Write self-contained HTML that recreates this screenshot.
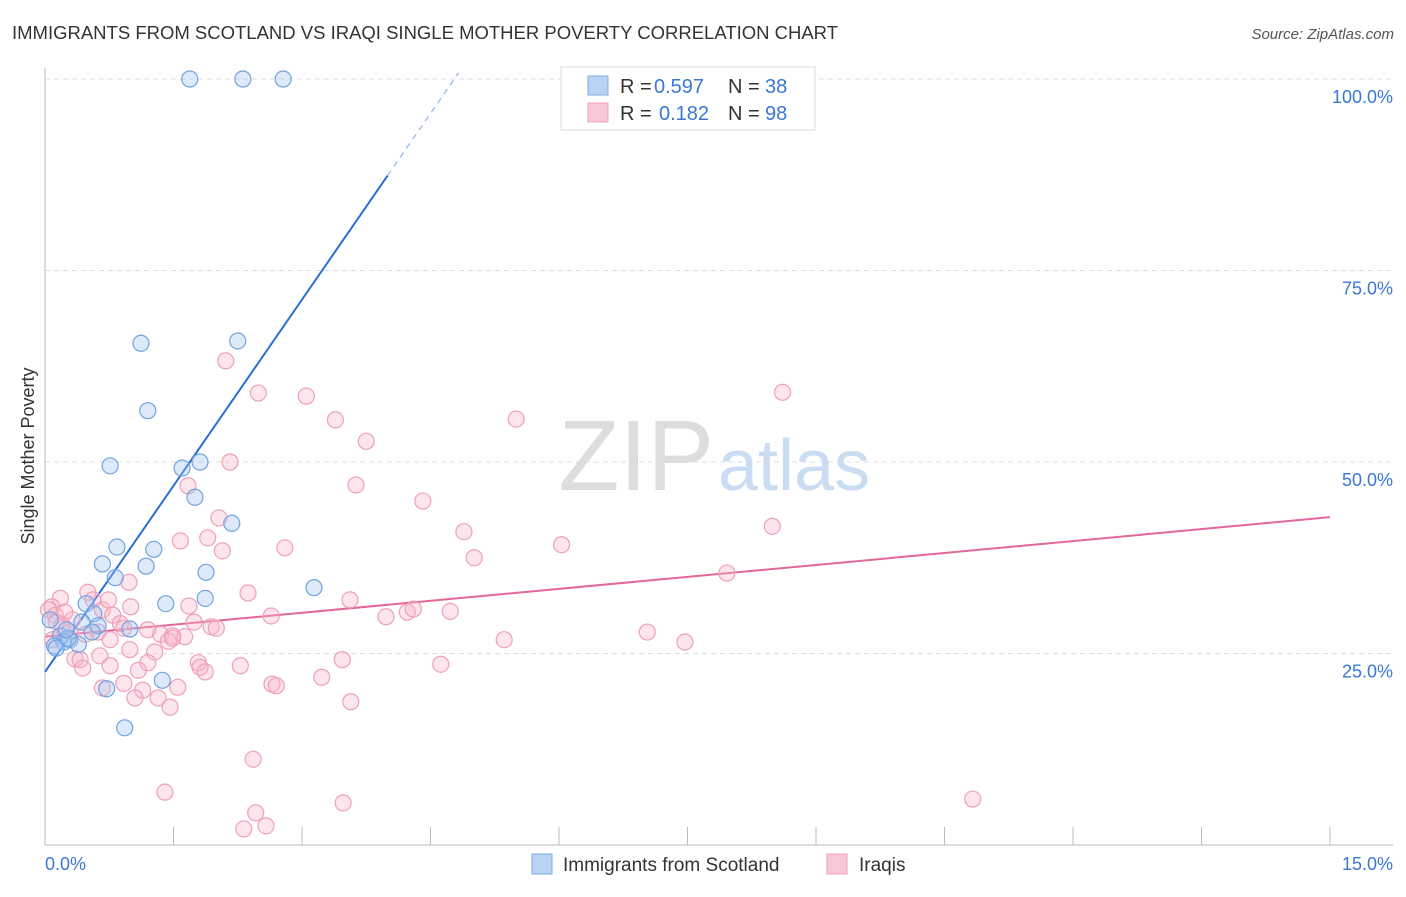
<!DOCTYPE html>
<html><head><meta charset="utf-8"><style>
body{margin:0;background:#fff;font-family:"Liberation Sans",sans-serif;}
svg text{font-family:"Liberation Sans",sans-serif;}
</style></head><body>
<svg id="chart" width="1406" height="892" xmlns="http://www.w3.org/2000/svg">
<text x="12" y="39" font-size="18" fill="#333" textLength="826" lengthAdjust="spacingAndGlyphs">IMMIGRANTS FROM SCOTLAND VS IRAQI SINGLE MOTHER POVERTY CORRELATION CHART</text>
<text x="1394" y="39" font-size="15" fill="#555" text-anchor="end" font-style="italic">Source: ZipAtlas.com</text>
<text x="714" y="490" font-size="100" fill="#ddd" text-anchor="end" font-family="Liberation Serif">ZIP</text>
<text x="718" y="490" font-size="72" fill="#c9dcf2">atlas</text>
<text transform="translate(34,456) rotate(-90)" font-size="18" fill="#333" text-anchor="middle">Single Mother Poverty</text>
<g id="grid"></g><g id="axes"></g><g id="lines"></g><g id="pts"></g>
<g>
<rect x="561" y="67" width="254" height="63" fill="#fff" stroke="#ddd"/>
<rect x="588" y="76" width="20" height="19" fill="#b9d3f5" stroke="#7eaee6"/>
<rect x="588" y="103" width="20" height="19" fill="#f9c7d6" stroke="#eea0b8"/>
<text x="620" y="93" font-size="20" fill="#333">R =</text>
<text x="654" y="93" font-size="20" fill="#3a78d4">0.597</text>
<text x="728" y="93" font-size="20" fill="#333">N =</text>
<text x="765" y="93" font-size="20" fill="#3a78d4">38</text>
<text x="620" y="120" font-size="20" fill="#333">R =</text>
<text x="659" y="120" font-size="20" fill="#3a78d4">0.182</text>
<text x="728" y="120" font-size="20" fill="#333">N =</text>
<text x="765" y="120" font-size="20" fill="#3a78d4">98</text>
</g>
<g>
<rect x="532" y="854" width="20" height="20" fill="#b9d3f5" stroke="#7eaee6"/>
<text x="563" y="871" font-size="19" fill="#333">Immigrants from Scotland</text>
<rect x="827" y="854" width="20" height="20" fill="#f9c7d6" stroke="#eea0b8"/>
<text x="859" y="871" font-size="19" fill="#333">Iraqis</text>
</g>
</svg>
<script>
const yTicks=[25,50,75,100];
const xTickLabels=["0.0%","15.0%"];
const blueX=[1.69,2.31,2.78,2.25,1.12,1.20,0.76,1.60,1.81,1.75,2.18,0.84,1.27,0.67,1.18,1.88,0.82,3.14,1.87,1.41,0.48,0.57,0.43,0.62,0.99,0.55,0.18,0.29,0.22,0.39,0.11,0.13,0.27,1.37,0.72,0.93,0.06,0.25];
const blueY=[100,100,100,65.8,65.5,56.7,49.5,49.2,50.0,45.4,42.0,38.9,38.6,36.7,36.4,35.6,34.9,33.6,32.2,31.5,31.5,30.2,29.1,28.6,28.2,27.8,27.3,26.8,26.5,26.2,26.0,25.7,27.0,21.5,20.4,15.3,29.4,28.1];
const pinkX=[2.11,2.49,3.05,3.39,5.50,8.61,3.75,2.16,3.63,4.41,1.67,4.89,8.49,2.03,5.01,6.03,1.90,1.58,2.07,2.80,7.96,0.98,2.37,1.68,3.56,2.64,4.23,4.30,3.98,4.73,1.00,0.67,0.18,0.08,0.12,0.13,0.32,0.50,0.56,0.79,0.88,0.92,0.62,1.20,1.35,1.49,1.63,1.74,1.94,2.00,1.44,1.49,7.03,7.47,5.36,0.76,0.99,1.28,0.64,0.35,0.41,0.44,1.20,1.09,0.76,2.28,1.79,1.87,3.47,4.62,3.23,2.65,2.70,0.92,0.67,1.14,1.55,1.05,1.32,1.46,3.57,2.43,1.40,2.46,3.48,2.58,2.32,10.83,0.04,0.23,0.29,0.47,0.09,0.20,0.74,1.81];
const pinkY=[63.2,59.0,58.6,55.5,55.6,59.1,52.7,50.0,47.0,44.9,46.9,40.9,41.6,42.7,37.5,39.2,40.1,39.7,38.4,38.8,35.5,34.3,32.9,31.2,32.0,29.9,30.4,30.8,29.8,30.5,31.1,30.7,32.2,31.1,30.0,29.1,29.4,33.0,32.0,30.0,28.9,28.3,27.8,28.1,27.5,27.3,27.2,29.1,28.5,28.3,26.6,27.0,27.8,26.5,26.8,26.8,25.5,25.2,24.7,24.3,24.2,23.1,23.8,22.8,23.4,23.4,23.8,22.6,24.2,23.6,21.9,21.0,20.8,21.1,20.5,20.2,20.6,19.2,19.2,18.0,18.7,11.2,6.9,4.2,5.5,2.5,2.1,6.0,30.7,30.4,27.8,27.5,26.8,28.7,32.0,23.2];
const blueTrend=[22.6,16.2]; // intercept, slope
const pinkTrend=[27.2,1.04];
const NS="http://www.w3.org/2000/svg";
const X=v=>45+v/15*1285, Y=v=>845-v/100*766;
function mk(tag,attrs,parent){const e=document.createElementNS(NS,tag);for(const k in attrs)e.setAttribute(k,attrs[k]);document.getElementById(parent).appendChild(e);return e;}
yTicks.forEach(t=>{
 const l=mk('line',{x1:45,x2:1393,y1:Y(t),y2:Y(t),stroke:'#ddd','stroke-dasharray':'5,4'},'grid');
 
 
 const tx=mk('text',{x:1393,y:Y(t)+24,'font-size':18,fill:'#3a78d4','text-anchor':'end'},'grid');tx.textContent=t.toFixed(1)+'%';
 
 
});
mk('line',{x1:45,x2:45,y1:68,y2:845,stroke:'#bbb'},'axes');
mk('line',{x1:45,x2:1393,y1:845,y2:845,stroke:'#bbb'},'axes');
for(let i=0;i<=10;i++){const t=mk('line',{x1:X(i*1.5),x2:X(i*1.5),y1:827,y2:845,stroke:'#bbb'},'axes');
 
 }
[[0,'start',45],[1,'end',1393]].forEach(([i,a,x])=>{const t=mk('text',{x:x,y:870,'font-size':18,fill:'#3a78d4','text-anchor':a},'axes');t.textContent=xTickLabels[i];
 
 });
function pts(xs,ys,fill,stroke,name){xs.forEach((x,i)=>{const c=mk('circle',{cx:X(x),cy:Y(ys[i]),r:8,fill:fill,stroke:stroke,'stroke-width':1.2},'pts');
 
 });}
pts(pinkX,pinkY,'rgba(248,180,200,0.35)','#eea0b8','iraqi-point');
pts(blueX,blueY,'rgba(160,195,240,0.35)','#6fa3e3','scotland-point');
const bxEnd=4.0, bxDash=(100.8-blueTrend[0])/blueTrend[1];
let l=mk('line',{x1:X(0),y1:Y(blueTrend[0]),x2:X(bxEnd),y2:Y(blueTrend[0]+blueTrend[1]*bxEnd),stroke:'#2a6fd6','stroke-width':2},'lines');


l=mk('line',{x1:X(bxEnd),y1:Y(blueTrend[0]+blueTrend[1]*bxEnd),x2:X(bxDash),y2:Y(100.8),stroke:'#8fb5ea','stroke-width':1.2,'stroke-dasharray':'6,5'},'lines');


l=mk('line',{x1:X(0),y1:Y(pinkTrend[0]),x2:X(15),y2:Y(pinkTrend[0]+pinkTrend[1]*15),stroke:'#e2679a','stroke-width':2},'lines');


</script>
</body></html>
